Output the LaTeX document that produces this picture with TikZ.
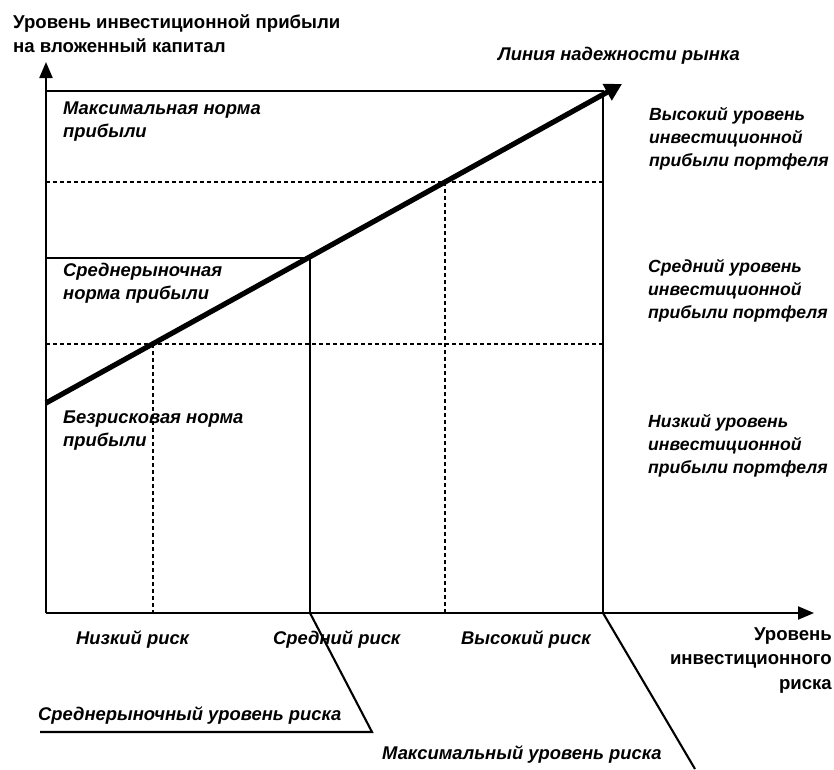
\documentclass[tikz,border=0pt]{standalone}
\usepackage{fontspec}
\setmainfont{Liberation Sans}
\usetikzlibrary{arrows.meta}
\tikzset{
  lbl/.style={font=\fontsize{18.4}{23}\selectfont\bfseries\itshape, inner sep=0pt, anchor=north west, align=left},
  rlbl/.style={lbl, font=\fontsize{17.6}{23}\selectfont\bfseries\itshape},
  axlbl/.style={font=\fontsize{18.6}{24.5}\selectfont\bfseries, inner sep=0pt},
  axis/.style={line width=2.1pt, -{Triangle[length=16pt,width=13pt]}},
  solidln/.style={line width=2.1pt},
  dashln/.style={line width=2pt, dash pattern=on 4pt off 3pt},
  market/.style={line width=5.2pt, -{Triangle[length=17pt,width=18pt]}}
}
\begin{document}
\begin{tikzpicture}[x=1pt,y=-1pt]
\fill[white] (0,0) rectangle (834,769);
\useasboundingbox (0,0) rectangle (834,769);

\coordinate (O) at (46,613);
\coordinate (ytip) at (46,62);
\coordinate (xtip) at (814,613);
\coordinate (r0) at (46,403);
\coordinate (rtip) at (622,84);
\coordinate (midtop) at (310,258);
\coordinate (midbot) at (310,613);
\coordinate (maxtop) at (603,91);
\coordinate (maxbot) at (603,613);

\draw[axis] (O) -- (ytip);
\draw[axis] (O) -- (xtip);

% levels
\draw[solidln] (46,91) -- (maxtop) -- (maxbot);
\draw[solidln] (46,258) -- (midtop) -- (midbot);
\draw[dashln] (46,182) -- (603,182);
\draw[dashln] (46,344) -- (603,344);
\draw[dashln] (153,344) -- (153,613);
\draw[dashln] (445,182) -- (445,613);

% callouts
\draw[solidln] (midbot) -- (372,732) -- (40,732);
\draw[solidln] (maxbot) -- (695,769);

\draw[market] (r0) -- (rtip);

\node[axlbl, anchor=north west, align=left] (ytitle) at (13,14) {Уровень инвестиционной прибыли\\на вложенный капитал};
\node[lbl] (line) at (498,47) {Линия надежности рынка};

\node[lbl] (maxrate) at (63,102) {Максимальная норма\\прибыли};
\node[lbl] (avgrate) at (63,263) {Среднерыночная\\норма прибыли};
\node[lbl] (freerate) at (63,411) {Безрисковая норма\\прибыли};

\node[rlbl] (hiprof) at (649,107) {Высокий уровень\\инвестиционной\\прибыли портфеля};
\node[rlbl] (midprof) at (648,259) {Средний уровень\\инвестиционной\\прибыли портфеля};
\node[rlbl] (loprof) at (648,414) {Низкий уровень\\инвестиционной\\прибыли портфеля};

\node[lbl] (lorisk) at (76,631) {Низкий риск};
\node[lbl] (midrisk) at (273,631) {Средний риск};
\node[lbl] (hirisk) at (461,631) {Высокий риск};
\node[axlbl, anchor=north east, align=right] (xtitle) at (832,627) {Уровень\\инвестиционного\\риска};

\node[lbl] (avgrisk) at (38,707) {Среднерыночный уровень риска};
\node[lbl] (maxrisk) at (382,746) {Максимальный уровень риска};
\end{tikzpicture}
\end{document}
